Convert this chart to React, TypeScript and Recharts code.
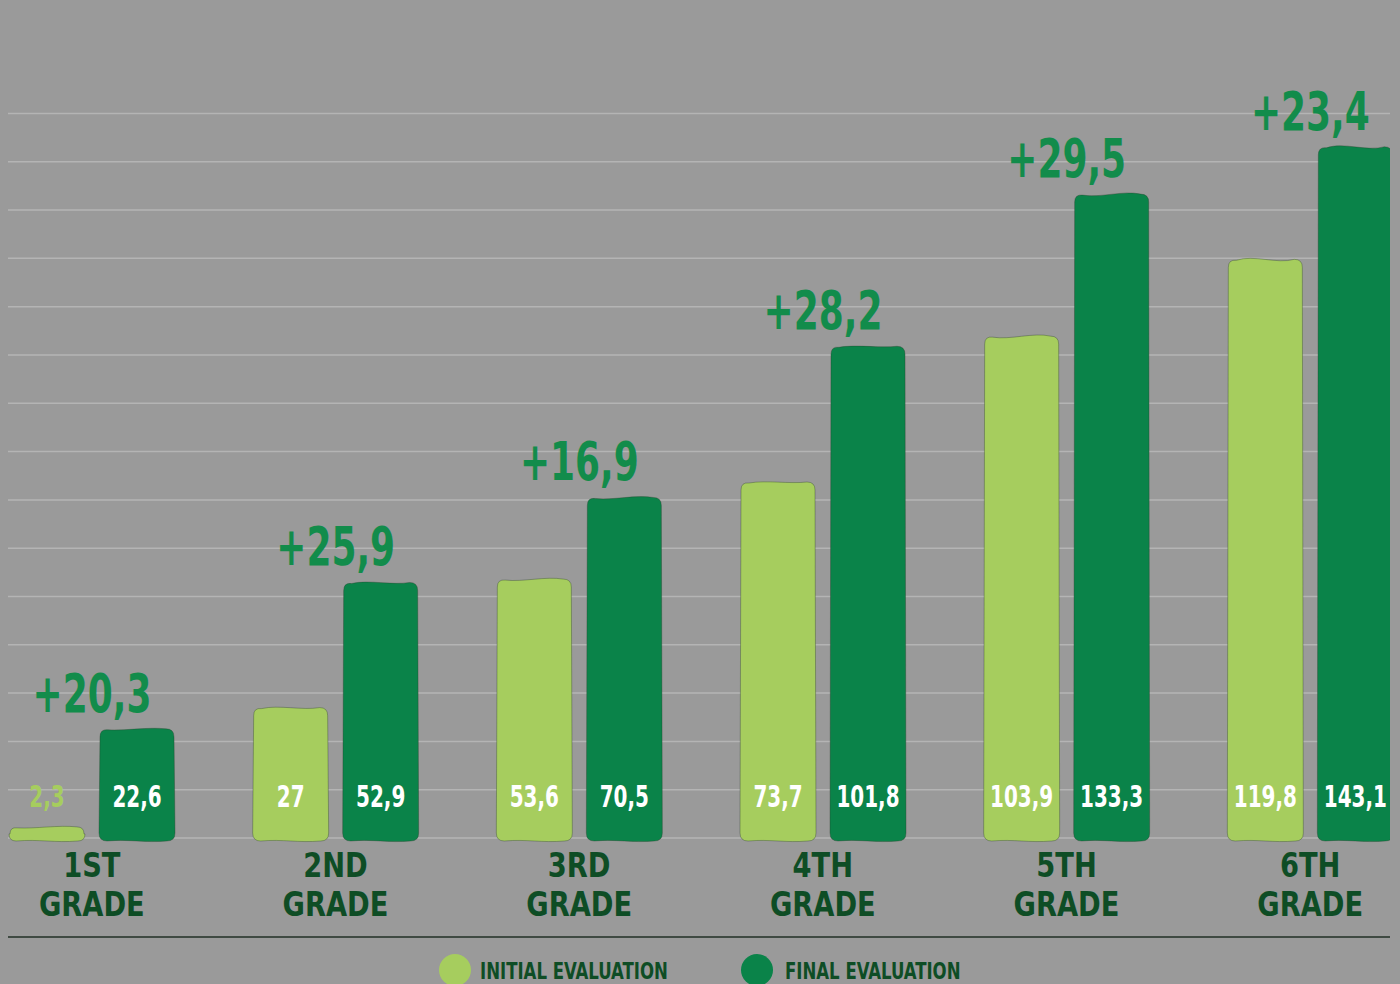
import React from 'react';
import { BarChart, Bar, XAxis, YAxis, CartesianGrid, LabelList } from 'recharts';

const grades = ['1ST GRADE', '2ND GRADE', '3RD GRADE', '4TH GRADE', '5TH GRADE', '6TH GRADE'];
const initialEvaluation = [2.3, 27, 53.6, 73.7, 103.9, 119.8];
const finalEvaluation = [22.6, 52.9, 70.5, 101.8, 133.3, 143.1];
const improvement = [20.3, 25.9, 16.9, 28.2, 29.5, 23.4];
const gridTicks = [0, 10, 20, 30, 40, 50, 60, 70, 80, 90, 100, 110, 120, 130, 140, 150];
const Y_MAX = 165;

const data = grades.map((grade, i) => ({
  grade,
  initial: initialEvaluation[i],
  final: finalEvaluation[i],
  delta: improvement[i],
}));

const LIGHT = '#a6cd5e';
const DARK = '#0a8349';
const DELTA_TEXT = '#128c4b';
const LABEL_TEXT = '#0e4d25';
const FONT = '"DejaVu Sans Condensed", "DejaVu Sans", sans-serif';

const comma = (v: number) => String(v).replace('.', ',');

// narrow bold text: the poster font is much tighter than anything installed
function NarrowText(props: any) {
  const { cx, cy, sx, size, fill, children, anchor = 'middle' } = props;
  return (
    <g transform={`translate(${cx},${cy}) scale(${sx},1)`}>
      <text x={0} y={0} textAnchor={anchor} dominantBaseline="central"
        fontFamily={FONT} fontWeight="bold" fontSize={size} fill={fill}>
        {children}
      </text>
    </g>
  );
}

// hand-drawn looking bar: wobbly top, rounded corners, sits a bit below baseline
function SketchBar(props: any) {
  const { x, y, width: w, height: h, fill, index } = props;
  if (h == null || w == null) return null;
  const y0 = y;
  const y1 = y + h + 3;
  const r = Math.min(8, (y1 - y0) / 2);
  const wob = [2, -3, 3, -2, 4, -5][index % 6];
  const d = [
    `M ${x} ${y1 - r}`,
    `L ${x + 1} ${y0 + r}`,
    `Q ${x + 1} ${y0} ${x + r + 1} ${y0 + 1}`,
    `C ${x + w * 0.35} ${y0 + wob} ${x + w * 0.65} ${y0 - wob} ${x + w - r - 1} ${y0}`,
    `Q ${x + w - 1} ${y0} ${x + w - 1} ${y0 + r}`,
    `L ${x + w} ${y1 - r}`,
    `Q ${x + w} ${y1} ${x + w - r} ${y1}`,
    `C ${x + w * 0.6} ${y1 + 2} ${x + w * 0.4} ${y1 - 2} ${x + r} ${y1}`,
    `Q ${x} ${y1} ${x} ${y1 - r}`,
    'Z',
  ].join(' ');
  return <path d={d} fill={fill} stroke="rgba(40,60,40,0.35)" strokeWidth={1} />;
}

function ValueLabel(props: any) {
  const { x, y, width, height, value } = props;
  const small = height < 40;
  return (
    <NarrowText cx={x + width / 2} cy={y + height - 41} sx={0.74} size={30}
      fill={small ? LIGHT : '#ffffff'}>
      {comma(value)}
    </NarrowText>
  );
}

function DeltaLabel(props: any) {
  const { x, y, value } = props;
  return (
    <NarrowText cx={x - 7} cy={y - 36} sx={0.74} size={54} fill={DELTA_TEXT}>
      {'+' + comma(value)}
    </NarrowText>
  );
}

function GradeTick(props: any) {
  const { x, y, payload } = props;
  const [a, b] = String(payload.value).split(' ');
  return (
    <g>
      <NarrowText cx={x} cy={y + 20} sx={0.92} size={33} fill={LABEL_TEXT}>{a}</NarrowText>
      <NarrowText cx={x} cy={y + 59} sx={0.92} size={33} fill={LABEL_TEXT}>{b}</NarrowText>
    </g>
  );
}

// only the 0..150 lines, not the top edge of the plot
const gridLines = (p: any) => {
  const s = p?.yAxis?.scale;
  if (typeof s === 'function') return gridTicks.map((t) => s(t));
  const { top, height } = p.offset;
  return gridTicks.map((t) => top + height * (1 - t / Y_MAX));
};

export default function App() {
  return (
    <div style={{ position: 'absolute', left: 0, top: 0, width: 1400, height: 984, background: '#9a9a9a', overflow: 'hidden' }}>
      <div style={{ position: 'absolute', left: 8, top: 0, width: 1382, height: 940, overflow: 'hidden' }}>
        <BarChart
          width={1462}
          height={940}
          data={data}
          margin={{ top: 41, right: 0, bottom: 0, left: 0 }}
          barSize={76}
          barGap={14}
          style={{ position: 'absolute', left: -38, top: 0 }}
        >
          <CartesianGrid vertical={false} stroke="#b4b4b4" strokeWidth={1.5} horizontalCoordinatesGenerator={gridLines} />
          <XAxis dataKey="grade" height={102} axisLine={false} tickLine={false} tick={<GradeTick />} interval={0} />
          <YAxis hide domain={[0, Y_MAX]} ticks={gridTicks} />
          <Bar dataKey="initial" name="Initial evaluation" fill={LIGHT} shape={<SketchBar />} isAnimationActive={false}>
            <LabelList dataKey="initial" content={<ValueLabel />} />
          </Bar>
          <Bar dataKey="final" name="Final evaluation" fill={DARK} shape={<SketchBar />} isAnimationActive={false}>
            <LabelList dataKey="final" content={<ValueLabel />} />
            <LabelList dataKey="delta" content={<DeltaLabel />} />
          </Bar>
        </BarChart>
      </div>
      <div style={{ position: 'absolute', left: 8, top: 936, width: 1382, height: 2, background: '#3f4a42' }} />
      <svg width={1400} height={44} style={{ position: 'absolute', left: 0, top: 940 }}>
        <circle cx={455} cy={30} r={16} fill={LIGHT} />
        <NarrowText cx={480} cy={31} sx={0.8} size={23} fill={LABEL_TEXT} anchor="start">INITIAL EVALUATION</NarrowText>
        <circle cx={757} cy={30} r={16} fill={DARK} />
        <NarrowText cx={785} cy={31} sx={0.8} size={23} fill={LABEL_TEXT} anchor="start">FINAL EVALUATION</NarrowText>
      </svg>
    </div>
  );
}
